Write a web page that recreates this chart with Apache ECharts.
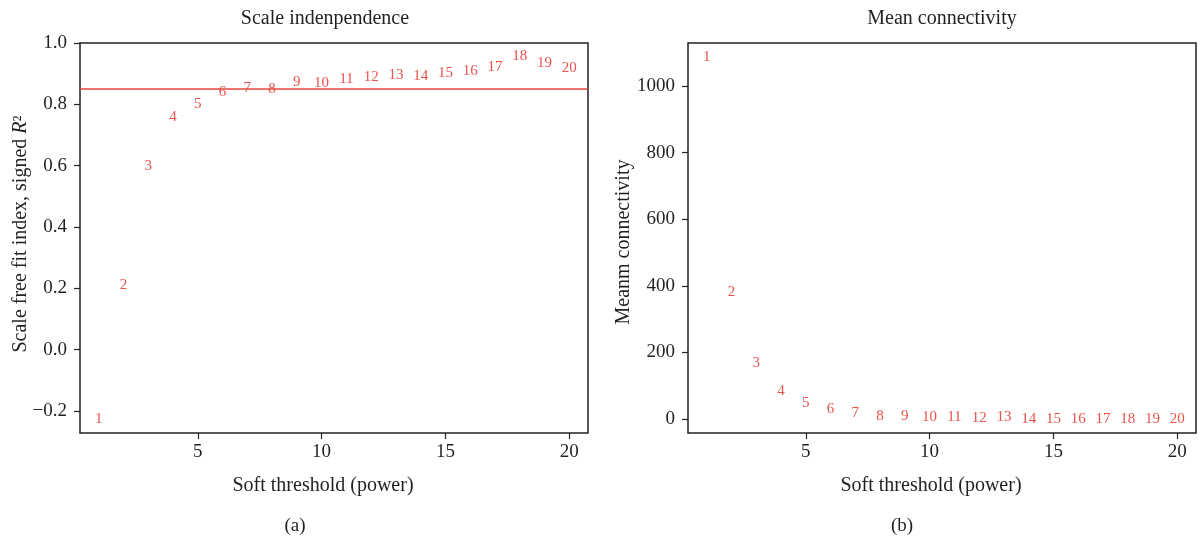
<!DOCTYPE html>
<html>
<head>
<meta charset="utf-8">
<script src="https://cdn.jsdelivr.net/npm/echarts@6/dist/echarts.min.js"></script>
<style>
  html, body { margin: 0; padding: 0; background: #ffffff; }
  #chart { width: 1198px; height: 538px; }
</style>
</head>
<body>
<div id="chart"></div>
<script>
// ---- data ----
const powers = [1, 2, 3, 4, 5, 6, 7, 8, 9, 10, 11, 12, 13, 14, 15, 16, 17, 18, 19, 20];
const scaleFreeFit = [-0.226, 0.21, 0.60, 0.757, 0.80, 0.840, 0.853, 0.851, 0.873, 0.868,
                      0.883, 0.888, 0.896, 0.893, 0.902, 0.908, 0.921, 0.956, 0.936, 0.918];
const meanConnectivity = [1086, 380, 169, 85, 49, 29, 17, 8, 8, 5,
                          5, 4, 5, 1, 1, 1, 1, 1, 1, 1];
const cutoff = 0.85;
const xTicks = [5, 10, 15, 20];
const leftYTicks = [-0.2, 0.0, 0.2, 0.4, 0.6, 0.8, 1.0];
const rightYTicks = [0, 200, 400, 600, 800, 1000];
const leftTitle = 'Scale indenpendence';
const rightTitle = 'Mean connectivity';
const xName = 'Soft threshold (power)';
const rightYName = 'Meanm connectivity';
const panelLabels = ['(a)', '(b)'];

// ---- styling ----
const FONT = 'Liberation Serif';
const INK = '#231f20';
const RED = '#e3261f';
const LINE_RED = '#e6483d';

function xAxisCfg(gridIndex) {
  return {
    type: 'value', gridIndex: gridIndex, min: 0.24, max: 20.76,
    axisLine: { show: false, onZero: false },
    splitLine: { show: false },
    axisTick: { show: true, inside: false, length: 6, customValues: xTicks,
                lineStyle: { color: INK, width: 1.2 } },
    axisLabel: { show: true, customValues: xTicks, margin: 10,
                 fontFamily: FONT, fontSize: 19, color: INK }
  };
}
function yAxisCfg(gridIndex, min, max, ticks, fmt) {
  return {
    type: 'value', gridIndex: gridIndex, min: min, max: max,
    axisLine: { show: false, onZero: false },
    splitLine: { show: false },
    axisTick: { show: true, inside: false, length: 6, customValues: ticks,
                lineStyle: { color: INK, width: 1.2 } },
    axisLabel: { show: true, customValues: ticks, margin: 13,
                 fontFamily: FONT, fontSize: 19, color: INK, formatter: fmt }
  };
}

const leftData = powers.map((p, i) => [p, scaleFreeFit[i]]);
const rightData = powers.map((p, i) => [p, meanConnectivity[i]]);

const labelCfg = {
  show: true, position: 'inside', color: RED, fontFamily: FONT, fontSize: 15,
  formatter: p => String(p.data[0])
};

const chart = echarts.init(document.getElementById('chart'), null, { renderer: 'canvas' });
chart.setOption({
  animation: false,
  backgroundColor: '#ffffff',
  grid: [
    { left: 80, top: 43, width: 508, height: 390, show: true, borderColor: INK,
      borderWidth: 1.5, backgroundColor: 'transparent', containLabel: false, outerBoundsMode: 'none' },
    { left: 688, top: 43, width: 508, height: 390, show: true, borderColor: INK,
      borderWidth: 1.5, backgroundColor: 'transparent', containLabel: false, outerBoundsMode: 'none' }
  ],
  xAxis: [xAxisCfg(0), xAxisCfg(1)],
  yAxis: [
    yAxisCfg(0, -0.272, 1.0, leftYTicks, v => (v < 0 ? '\u2212' : '') + Math.abs(v).toFixed(1)),
    yAxisCfg(1, -42, 1129, rightYTicks, v => String(Math.round(v)))
  ],
  series: [
    {
      type: 'scatter', xAxisIndex: 0, yAxisIndex: 0, data: leftData,
      symbolSize: 1, itemStyle: { color: 'rgba(0,0,0,0)' },
      label: labelCfg, emphasis: { disabled: true },
      markLine: {
        silent: true, symbol: ['none', 'none'],
        lineStyle: { color: LINE_RED, width: 1.5, type: 'solid' },
        label: { show: false },
        data: [{ yAxis: cutoff }]
      }
    },
    {
      type: 'scatter', xAxisIndex: 1, yAxisIndex: 1, data: rightData,
      symbolSize: 1, itemStyle: { color: 'rgba(0,0,0,0)' },
      label: labelCfg, emphasis: { disabled: true }
    }
  ],
  graphic: [
    { type: 'text', x: 325, y: 19, style: { text: leftTitle, fontFamily: FONT, fontSize: 20,
      fill: INK, align: 'center', verticalAlign: 'middle' } },
    { type: 'text', x: 942, y: 19, style: { text: rightTitle, fontFamily: FONT, fontSize: 20,
      fill: INK, align: 'center', verticalAlign: 'middle' } },
    { type: 'text', x: 323, y: 486, style: { text: xName, fontFamily: FONT, fontSize: 20,
      fill: INK, align: 'center', verticalAlign: 'middle' } },
    { type: 'text', x: 931, y: 486, style: { text: xName, fontFamily: FONT, fontSize: 20,
      fill: INK, align: 'center', verticalAlign: 'middle' } },
    { type: 'text', x: 295, y: 526, style: { text: panelLabels[0], fontFamily: FONT, fontSize: 19,
      fill: INK, align: 'center', verticalAlign: 'middle' } },
    { type: 'text', x: 902, y: 526, style: { text: panelLabels[1], fontFamily: FONT, fontSize: 19,
      fill: INK, align: 'center', verticalAlign: 'middle' } },
    { type: 'text', x: 21, y: 234, rotation: Math.PI / 2,
      style: { text: '{a|Scale free fit index, signed }{b|R}{a|\u00B2}', align: 'center', verticalAlign: 'middle',
        fill: INK,
        rich: {
          a: { fontFamily: FONT, fontSize: 20, fill: INK, color: INK },
          b: { fontFamily: FONT, fontSize: 20, fontStyle: 'italic', fill: INK, color: INK }
        } } },
    { type: 'text', x: 624, y: 242, rotation: Math.PI / 2,
      style: { text: rightYName, fontFamily: FONT, fontSize: 20, fill: INK,
        align: 'center', verticalAlign: 'middle' } }
  ]
});
</script>
</body>
</html>
